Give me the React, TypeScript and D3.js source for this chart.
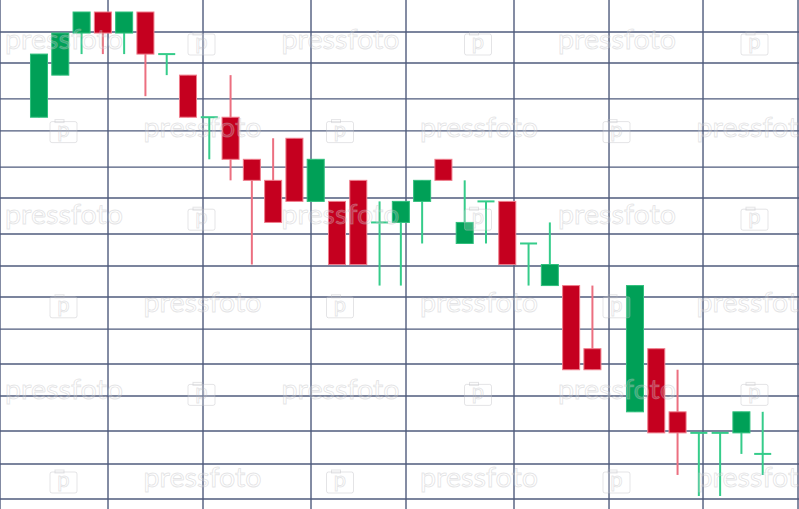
import React from "react";
import * as d3 from "d3";

// Candle data (price units), index = trading slot; null = no session
const slots = d3.range(35);
const opens: (number | null)[] = [55,57,59,60,59,60,58,57,55,55,53,52,54,51,51,52,50,50,51,53,49,51,51,49,47,47,44,null,41,44,41,40,40,40,39];
const closes: (number | null)[] = [58,59,60,59,60,58,58,55,55,53,52,50,51,53,48,48,50,51,52,52,50,51,48,49,48,43,43,null,47,40,40,40,40,41,39];
const highs: (number | null)[] = [58,59,60,60,60,60,58,57,55,57,53,54,54,53,51,52,51,51,52,53,52,51,51,49,50,47,47,null,47,44,43,40,40,41,41];
const lows: (number | null)[] = [55,57,58,58,58,56,57,55,53,52,48,50,51,51,48,48,47,47,49,52,49,49,48,47,47,43,43,null,41,40,38,37,37,39,38];

// Grid line values
const gridPrices = [59.05, 57.58, 55.87, 54.35, 52.63, 51.16, 49.45, 47.93, 46.46, 44.93, 43.27, 41.75, 40.09, 38.52, 36.86];
const gridSlots = [-1.832, 3.242, 7.705, 12.779, 17.242, 22.316, 26.78, 31.196, 35.659];

const watermarkText = "pressfoto";

const W = 799;
const H = 509;

export default function App() {
  const x = d3.scaleLinear().domain([0, 34]).range([39, 762.7]);
  const y = d3.scaleLinear().domain([60, 37]).range([12, 496]);
  const step = x(1) - x(0);
  const bodyW = step * 0.8;

  const GREEN = "#00a057";
  const GREEN_W = "#35cc8a";
  const RED = "#c5001f";
  const RED_W = "#ec6f80";
  const GRID = "#4f5b7c";
  const WM = "rgba(185,185,190,0.38)";

  const candles = slots
    .map((i) => ({ i, o: opens[i], c: closes[i], h: highs[i], l: lows[i] }))
    .filter((d) => d.o != null);

  // watermark layout
  const rows = d3.range(6);
  const marks: { kind: "t" | "c"; x: number; y: number }[] = [];
  rows.forEach((r) => {
    const cy = 43 + r * 87.6;
    const shift = r % 2 === 0 ? 0 : -138;
    for (let k = -1; k < 4; k++) {
      const base = 5 + k * 276.5 + shift;
      if (base > -60 && base < W) marks.push({ kind: "t", x: base, y: cy });
      if (base + 183 > -10 && base + 183 < W) marks.push({ kind: "c", x: base + 183, y: cy });
    }
  });

  return (
    <svg
      width={W}
      height={H}
      style={{ position: "fixed", left: 0, top: 0, background: "#fff" }}
    >
      <rect x={0} y={0} width={W} height={H} fill="#fff" />
      <g>
        {gridPrices.map((p, k) => (
          <line key={"h" + k} x1={0} x2={W} y1={y(p)} y2={y(p)} stroke={GRID} strokeWidth={1.4} />
        ))}
        {gridSlots.map((s, k) => (
          <line key={"v" + k} x1={x(s)} x2={x(s)} y1={0} y2={H} stroke={GRID} strokeWidth={1.4} />
        ))}
      </g>
      <g>
        {candles.map((d) => {
          const up = (d.c as number) >= (d.o as number);
          const cx = x(d.i);
          const top = y(Math.max(d.o as number, d.c as number));
          const bot = y(Math.min(d.o as number, d.c as number));
          const doji = d.o === d.c;
          const wc = up ? GREEN_W : RED_W;
          return (
            <g key={d.i}>
              <line x1={cx} x2={cx} y1={y(d.h as number)} y2={y(d.l as number)} stroke={wc} strokeWidth={2} />
              {doji ? (
                <line x1={cx - bodyW / 2} x2={cx + bodyW / 2} y1={top} y2={top} stroke={wc} strokeWidth={2} />
              ) : (
                <rect
                  x={cx - bodyW / 2}
                  y={top}
                  width={bodyW}
                  height={bot - top}
                  fill={up ? GREEN : RED}
                  stroke={up ? "#2fbf7c" : "#ef7d8c"}
                  strokeWidth={1}
                />
              )}
            </g>
          );
        })}
      </g>
      <g style={{ pointerEvents: "none" }}>
        {marks.map((m, k) =>
          m.kind === "t" ? (
            <text
              key={k}
              x={m.x}
              y={m.y + 6}
              fontFamily="Lato, 'Noto Sans', sans-serif"
              fontSize={27}
              textLength={118}
              lengthAdjust="spacingAndGlyphs"
              fill="rgba(255,255,255,0.2)"
              stroke={WM}
              strokeWidth={0.9}
            >
              {watermarkText}
            </text>
          ) : (
            <g key={k} transform={`translate(${m.x},${m.y - 11})`}>
              <rect x={0} y={2} width={27} height={21} rx={2} fill="rgba(255,255,255,0.2)" stroke={WM} strokeWidth={1} />
              <rect x={5} y={0} width={9} height={3} fill="none" stroke={WM} strokeWidth={1} />
              <text x={13.5} y={17} textAnchor="middle" fontFamily="Lato, sans-serif" fontSize={22} fill="none" stroke={WM} strokeWidth={0.9}>
                p
              </text>
            </g>
          )
        )}
      </g>
    </svg>
  );
}
